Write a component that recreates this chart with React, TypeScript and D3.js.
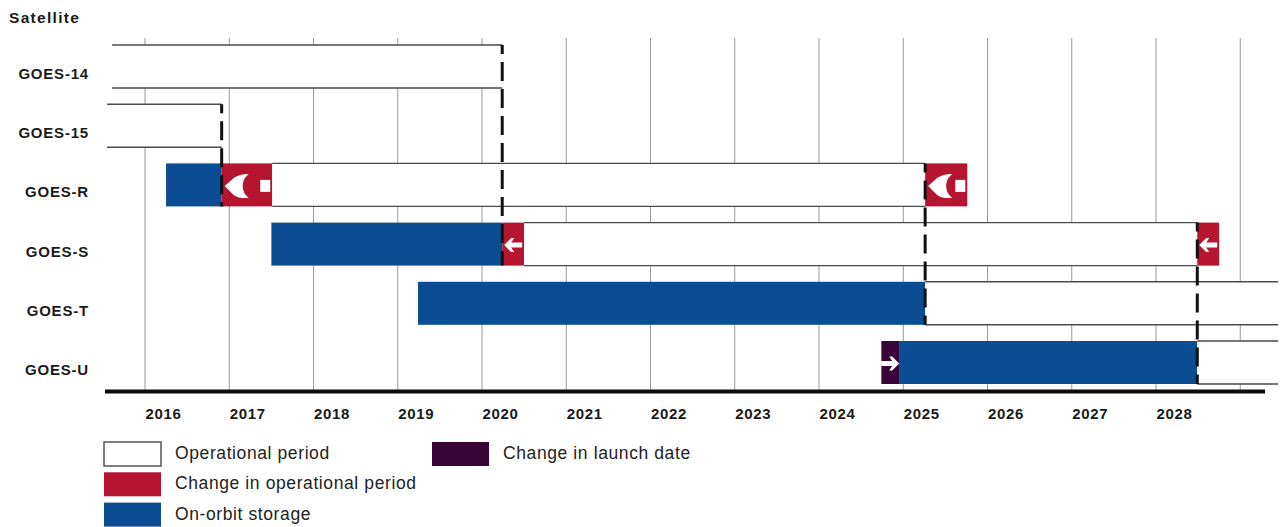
import React from "react";
import * as d3 from "d3";

// Satellite schedule, in fractional calendar years
const satellites = ["GOES-14", "GOES-15", "GOES-R", "GOES-S", "GOES-T", "GOES-U"];
const gridYears = d3.range(2016, 2030);
const tickYears = d3.range(2016, 2029);

type Kind = "operational" | "change" | "storage" | "launch";

const goes14 = [{ kind: "operational", from: 2015.61, to: 2020.24 }];
const goes15 = [{ kind: "operational", from: 2015.55, to: 2016.91 }];
const goesR = [
  { kind: "storage", from: 2016.25, to: 2016.91 },
  { kind: "change", from: 2016.91, to: 2017.51 },
  { kind: "operational", from: 2017.51, to: 2025.26 },
  { kind: "change", from: 2025.26, to: 2025.76 },
];
const goesS = [
  { kind: "storage", from: 2017.5, to: 2020.24 },
  { kind: "change", from: 2020.24, to: 2020.5 },
  { kind: "operational", from: 2020.5, to: 2028.49 },
  { kind: "change", from: 2028.49, to: 2028.75 },
];
const goesT = [
  { kind: "storage", from: 2019.24, to: 2025.26 },
  { kind: "operational", from: 2025.26, to: 2029.45 },
];
const goesU = [
  { kind: "launch", from: 2024.74, to: 2024.95 },
  { kind: "storage", from: 2024.95, to: 2028.49 },
  { kind: "operational", from: 2028.49, to: 2029.45 },
];
const rows = [goes14, goes15, goesR, goesS, goesT, goesU];

// Dashed handover lines between satellites
const handovers = [
  { year: 2016.91, first: "GOES-15", last: "GOES-R" },
  { year: 2020.24, first: "GOES-14", last: "GOES-S" },
  { year: 2025.26, first: "GOES-R", last: "GOES-T" },
  { year: 2028.49, first: "GOES-S", last: "GOES-U" },
];

// Glyphs on the change segments: each sits inside the from..to span on a satellite's row
const glyphs = [
  { shape: "crescent", sat: "GOES-R", from: 2016.91, to: 2017.51 },
  { shape: "crescent", sat: "GOES-R", from: 2025.26, to: 2025.76 },
  { shape: "left", sat: "GOES-S", from: 2020.24, to: 2020.5 },
  { shape: "left", sat: "GOES-S", from: 2028.49, to: 2028.75 },
  { shape: "right", sat: "GOES-U", from: 2024.74, to: 2024.95 },
];

const legendLeft = [
  { kind: "operational", label: "Operational period" },
  { kind: "change", label: "Change in operational period" },
  { kind: "storage", label: "On-orbit storage" },
];
const legendRight = [{ kind: "launch", label: "Change in launch date" }];

const fills: Record<Kind, string> = {
  operational: "#ffffff",
  change: "#b5152f",
  storage: "#0b4d92",
  launch: "#380538",
};

const FONT = "'Liberation Sans', Arial, sans-serif";
const width = 1282;
const height = 527;

const x = d3.scaleLinear().domain([2016, 2028]).range([145, 1156]);
const y = d3.scaleBand<string>().domain(satellites).range([45, 384]).paddingInner(0.2736).paddingOuter(0);
const band = y.bandwidth();

function Glyph({ shape, x0, x1, cy }: { shape: string; x0: number; x1: number; cy: number }) {
  if (shape === "crescent") {
    return (
      <g fill="#fff">
        <g transform={`translate(${x0},${cy})`}>
          <path d="M3,1 L12,-7 Q18,-11 27,-11 Q21,-6 21,1 Q21,8 27,13 Q18,14 12,10 Z" />
        </g>
        <rect x={x1 - 12} y={cy - 5} width={10} height={12} />
      </g>
    );
  }
  // Pointing arrows are centred on their segment
  const dir = shape === "left" ? 1 : -1;
  const mid = (x0 + x1) / 2;
  return (
    <g transform={`translate(${mid},${cy + 1}) scale(${dir},1)`} fill="#fff">
      <path d="M-9,0 L-2,-7 L1,-7 L-2,-2.5 L9,-2.5 L9,2.5 L-2,2.5 L1,7 L-2,7 Z" />
    </g>
  );
}

function Swatch({ kind, sx, sy, label }: { kind: string; sx: number; sy: number; label: string }) {
  return (
    <g>
      <rect
        x={sx}
        y={sy}
        width={57}
        height={24}
        fill={fills[kind as Kind]}
        stroke={kind === "operational" ? "#555" : "none"}
        strokeWidth={1.5}
      />
      <text x={sx + 71} y={sy + 17} fontFamily={FONT} fontSize={17.5} letterSpacing={0.6} fill="#222">
        {label}
      </text>
    </g>
  );
}

export default function App() {
  return (
    <svg
      width={width}
      height={height}
      viewBox={`0 0 ${width} ${height}`}
      style={{ position: "absolute", left: 0, top: 0, background: "#fff" }}
    >
      {gridYears.map((yr) => (
        <line key={yr} x1={x(yr)} x2={x(yr)} y1={38} y2={391} stroke="#999" strokeWidth={1} />
      ))}

      {satellites.map((sat, i) => {
        const top = y(sat)!;
        return (
          <g key={sat}>
            {rows[i].map((seg, j) => {
              const x0 = x(seg.from);
              const x1 = Math.min(x(seg.to), width);
              return seg.kind === "operational" ? (
                <g key={j}>
                  <rect x={x0} y={top} width={x1 - x0} height={band} fill="#fff" />
                  <line x1={x0} x2={x1} y1={top} y2={top} stroke="#4a4a4a" strokeWidth={1.4} />
                  <line x1={x0} x2={x1} y1={top + band} y2={top + band} stroke="#4a4a4a" strokeWidth={1.4} />
                </g>
              ) : (
                <rect key={j} x={x0} y={top} width={x1 - x0} height={band} fill={fills[seg.kind as Kind]} />
              );
            })}
            <text
              x={89}
              y={top + band / 2 + 12.5}
              textAnchor="end"
              fontFamily={FONT}
              fontWeight={700}
              fontSize={15}
              letterSpacing={0.8}
              fill="#1a1a1a"
            >
              {sat}
            </text>
          </g>
        );
      })}

      {handovers.map((h) => (
        <line
          key={h.year}
          x1={x(h.year)}
          x2={x(h.year)}
          y1={y(h.first)!}
          y2={y(h.last)! + band}
          stroke="#111"
          strokeWidth={3}
          strokeDasharray="19 8"
          strokeDashoffset={10}
        />
      ))}

      {glyphs.map((g, i) => (
        <Glyph key={i} shape={g.shape} x0={x(g.from)} x1={x(g.to)} cy={y(g.sat)! + band / 2} />
      ))}

      <line x1={105} x2={1265} y1={391.5} y2={391.5} stroke="#0a0a0a" strokeWidth={4} />

      {tickYears.map((yr) => (
        <text
          key={yr}
          x={x(yr) + 18.5}
          y={419}
          textAnchor="middle"
          fontFamily={FONT}
          fontWeight={700}
          fontSize={15}
          letterSpacing={0.7}
          fill="#1a1a1a"
        >
          {yr}
        </text>
      ))}

      <text x={9} y={22.5} fontFamily={FONT} fontWeight={700} fontSize={15.5} letterSpacing={1.3} fill="#1a1a1a">
        Satellite
      </text>

      {legendLeft.map((l, i) => (
        <Swatch key={l.kind} kind={l.kind} sx={104} sy={442 + i * 30.3} label={l.label} />
      ))}
      {legendRight.map((l) => (
        <Swatch key={l.kind} kind={l.kind} sx={432} sy={442} label={l.label} />
      ))}
    </svg>
  );
}
